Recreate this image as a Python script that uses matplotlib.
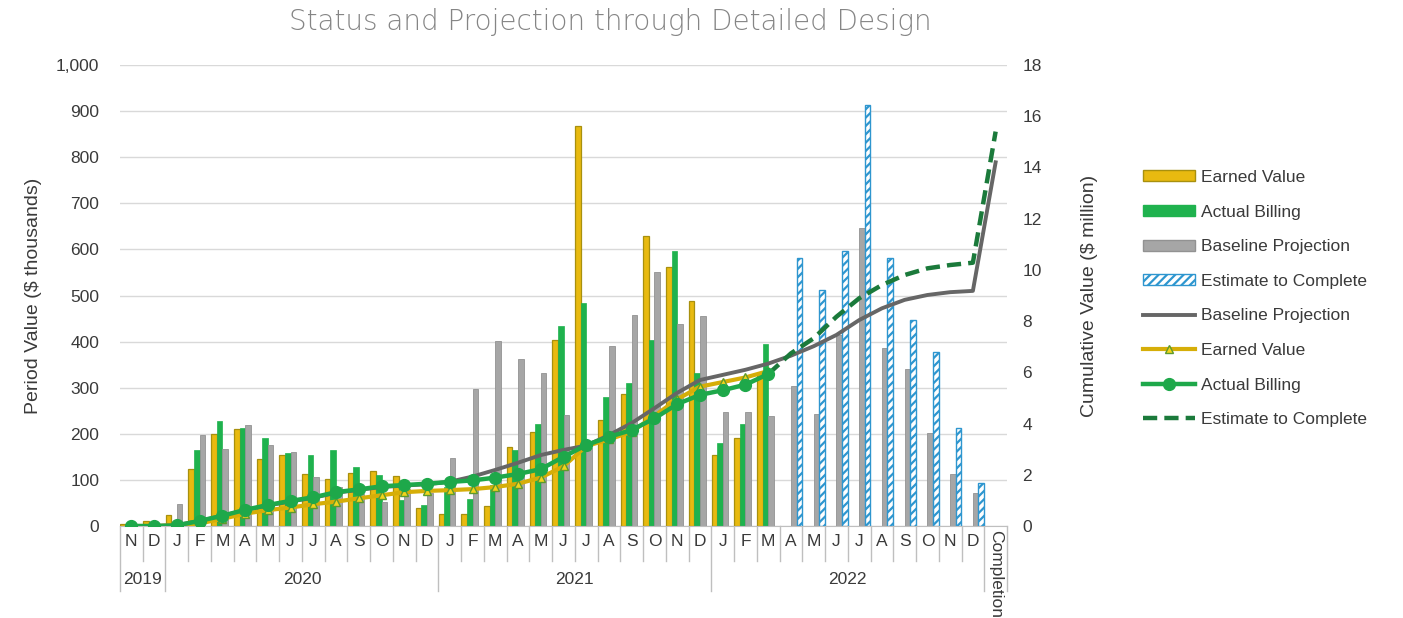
import matplotlib
matplotlib.use('Agg')
import matplotlib.pyplot as plt
import numpy as np
from matplotlib.transforms import blended_transform_factory
from matplotlib.patches import Patch
from matplotlib.lines import Line2D

# ---------------- data ----------------
months = ['N', 'D'] + ['J', 'F', 'M', 'A', 'M', 'J', 'J', 'A', 'S', 'O', 'N', 'D'] * 3 + ['Completion']
years = ['2019', '2020', '2021', '2022']
months_per_year = [2, 12, 12, 12]

N = None
# period values ($ thousands)
earned_value = [5, 11, 24, 124, 200, 210, 145, 154, 113, 103, 116, 120, 109, 40,
                27, 27, 43, 172, 204, 404, 868, 230, 286, 629, 562, 489,
                154, 190, 330, N, N, N, N, N, N, N, N, N, N]
actual_billing = [0, 3, 5, 165, 228, 212, 190, 158, 153, 165, 127, 111, 56, 46,
                  85, 58, 88, 164, 221, 433, 484, 279, 311, 403, 597, 331,
                  179, 221, 394, N, N, N, N, N, N, N, N, N, N]
baseline_projection = [0, 0, 47, 197, 167, 219, 176, 161, 106, 85, 70, 51, 80, 71,
                       147, 298, 401, 362, 331, 241, 170, 391, 458, 550, 438, 456,
                       248, 248, 239, 304, 243, 414, 647, 387, 341, 201, 113, 72, N]
estimate_to_complete = [N] * 29 + [581, 513, 597, 913, 582, 447, 378, 213, 93, N]

# cumulative values ($ million)
baseline_cum = [0.0, 0.0, 0.04, 0.2, 0.4, 0.62, 0.8, 0.96, 1.1, 1.3, 1.41, 1.52, 1.58, 1.63,
                1.73, 1.93, 2.19, 2.47, 2.77, 2.97, 3.14, 3.55, 4.02, 4.6, 5.2, 5.7,
                5.9, 6.1, 6.34, 6.65, 7.02, 7.46, 8.04, 8.5, 8.83, 9.02, 9.13, 9.18, 14.2]
earned_value_cum = [0.0, 0.0, 0.02, 0.1, 0.28, 0.48, 0.62, 0.72, 0.85, 0.95, 1.08, 1.2, 1.32, 1.37,
                    1.4, 1.44, 1.52, 1.65, 1.89, 2.33, 3.12, 3.38, 3.68, 4.3, 4.95, 5.44,
                    5.62, 5.8, 6.05, N, N, N, N, N, N, N, N, N, N]
actual_billing_cum = [0.0, 0.0, 0.02, 0.2, 0.4, 0.63, 0.82, 0.98, 1.12, 1.32, 1.43, 1.55, 1.6, 1.65,
                      1.72, 1.78, 1.89, 2.03, 2.22, 2.7, 3.16, 3.48, 3.75, 4.2, 4.76, 5.12,
                      5.3, 5.52, 5.93, N, N, N, N, N, N, N, N, N, N]
etc_cum = [N] * 28 + [5.93, 6.74, 7.33, 8.17, 8.89, 9.41, 9.8, 10.06, 10.19, 10.28, 15.4]


def arr(v):
    return np.array([np.nan if a is None else a for a in v], dtype=float)


# ---------------- style ----------------
plt.rcParams['font.family'] = ['Liberation Sans', 'DejaVu Sans']
plt.rcParams['hatch.linewidth'] = 1.6

GOLD = '#E8BA10'
GOLD_EDGE = '#A8900E'
GREEN = '#1FB24E'
GRAY = '#A6A6A6'
GRAY_EDGE = '#929292'
BLUE = '#2E96CF'
LINE_GRAY = '#666666'
LINE_GOLD = '#D6AE08'
LINE_GREEN = '#1EA84A'
DASH_GREEN = '#1B7A3B'
TXT = '#3A3A3A'

fig = plt.figure(figsize=(14.03, 6.18), dpi=100)
ax = fig.add_axes([120 / 1403, 1 - 526 / 618, 887 / 1403, 461 / 618])
ax2 = ax.twinx()

x = np.arange(len(months))
w = 0.245

ax.bar(x - 1.5 * w, arr(earned_value), w, color=GOLD, edgecolor=GOLD_EDGE, linewidth=0.9, zorder=2)
ax.bar(x - 0.5 * w, arr(actual_billing), w, color=GREEN, edgecolor=GREEN, linewidth=0.5, zorder=2)
ax.bar(x + 0.5 * w, arr(baseline_projection), w, color=GRAY, edgecolor=GRAY_EDGE, linewidth=0.6, zorder=2)
ax.bar(x + 1.5 * w, arr(estimate_to_complete), w, color='white', edgecolor=BLUE, hatch='////',
       linewidth=1.0, zorder=2)

ax.set_xlim(-0.5, len(months) - 0.5)
ax.set_ylim(0, 1000)
ax.set_yticks(np.arange(0, 1001, 100))
ax.set_yticklabels([f'{v:,}' for v in range(0, 1001, 100)])
ax.yaxis.grid(True, color='#D9D9D9', linewidth=1.0, zorder=0)
ax.set_axisbelow(True)
for s in ['top', 'right', 'left']:
    ax.spines[s].set_visible(False)
ax.spines['bottom'].set_color('#BFBFBF')
ax.tick_params(axis='y', length=0, pad=15, labelsize=12.5, labelcolor=TXT)
ax.set_ylabel('Period Value ($ thousands)', fontsize=14, color=TXT, labelpad=10)

# x axis labels
ax.set_xticks(x)
ax.set_xticklabels(months[:-1] + [''])
ax.tick_params(axis='x', length=0, pad=6, labelsize=12.5, labelcolor=TXT)
trans = blended_transform_factory(ax.transData, ax.transAxes)
ax.text(x[-1], -0.008, months[-1], transform=trans, rotation=270, ha='center', va='top',
        fontsize=12.5, color=TXT)

# separators
sep_short = -0.075
sep_long = -0.14
year_bounds = np.cumsum([0] + months_per_year) - 0.5
for b in np.arange(-0.5, len(months) + 0.5, 1.0):
    depth = sep_long if (np.any(np.isclose(b, year_bounds)) or b >= len(months) - 1.5) else sep_short
    ax.plot([b, b], [0, depth], transform=trans, color='#BFBFBF', lw=1.0, clip_on=False, zorder=1)
for i, yr in enumerate(years):
    c = (year_bounds[i] + year_bounds[i + 1]) / 2
    ax.text(c, -0.115, yr, transform=trans, ha='center', va='center', fontsize=12.5, color=TXT)

# cumulative lines
ax2.plot(x, arr(baseline_cum), color=LINE_GRAY, lw=2.8, zorder=3)
ax2.plot(x, arr(earned_value_cum), color=LINE_GOLD, lw=3.0, marker='^', ms=6,
         mfc='#F2D41C', mec='#5E9A2C', mew=1.0, zorder=4)
ax2.plot(x, arr(actual_billing_cum), color=LINE_GREEN, lw=3.2, marker='o', ms=8.5,
         mfc=LINE_GREEN, mec=LINE_GREEN, zorder=5)
ax2.plot(x, arr(etc_cum), color=DASH_GREEN, lw=3.2, ls=(0, (3.2, 1.6)), zorder=4)
ax2.set_ylim(0, 18)
ax2.set_yticks(np.arange(0, 19, 2))
for s in ['top', 'right', 'left', 'bottom']:
    ax2.spines[s].set_visible(False)
ax2.tick_params(axis='y', length=0, pad=11, labelsize=12.5, labelcolor=TXT)
ax2.set_ylabel('Cumulative Value ($ million)', fontsize=14, color=TXT, labelpad=28)

# title
fig.text(610 / 1403, 1 - 22 / 618, 'Status and Projection through Detailed Design', ha='center', va='center',
         fontsize=20, color='#858585', family=['DejaVu Sans'], fontweight='light')

# legend
handles = [
    Patch(facecolor=GOLD, edgecolor=GOLD_EDGE, label='Earned Value'),
    Patch(facecolor=GREEN, edgecolor=GREEN, label='Actual Billing'),
    Patch(facecolor=GRAY, edgecolor=GRAY_EDGE, label='Baseline Projection'),
    Patch(facecolor='white', edgecolor=BLUE, hatch='////', label='Estimate to Complete'),
    Line2D([], [], color=LINE_GRAY, lw=2.8, label='Baseline Projection'),
    Line2D([], [], color=LINE_GOLD, lw=3.0, marker='^', ms=6, mfc='#F2D41C', mec='#5E9A2C',
           label='Earned Value'),
    Line2D([], [], color=LINE_GREEN, lw=3.2, marker='o', ms=8.5, label='Actual Billing'),
    Line2D([], [], color=DASH_GREEN, lw=3.2, ls=(0, (3.2, 1.6)), label='Estimate to Complete'),
]
leg = fig.legend(handles=handles, loc='upper left', bbox_to_anchor=(1136 / 1403, 1 - 163 / 618),
                 frameon=False, fontsize=12.5, handlelength=3.0, handleheight=0.6,
                 handletextpad=0.35, labelspacing=1.13, borderaxespad=0)
for t in leg.get_texts():
    t.set_color(TXT)

fig.savefig('out.png', dpi=100)
